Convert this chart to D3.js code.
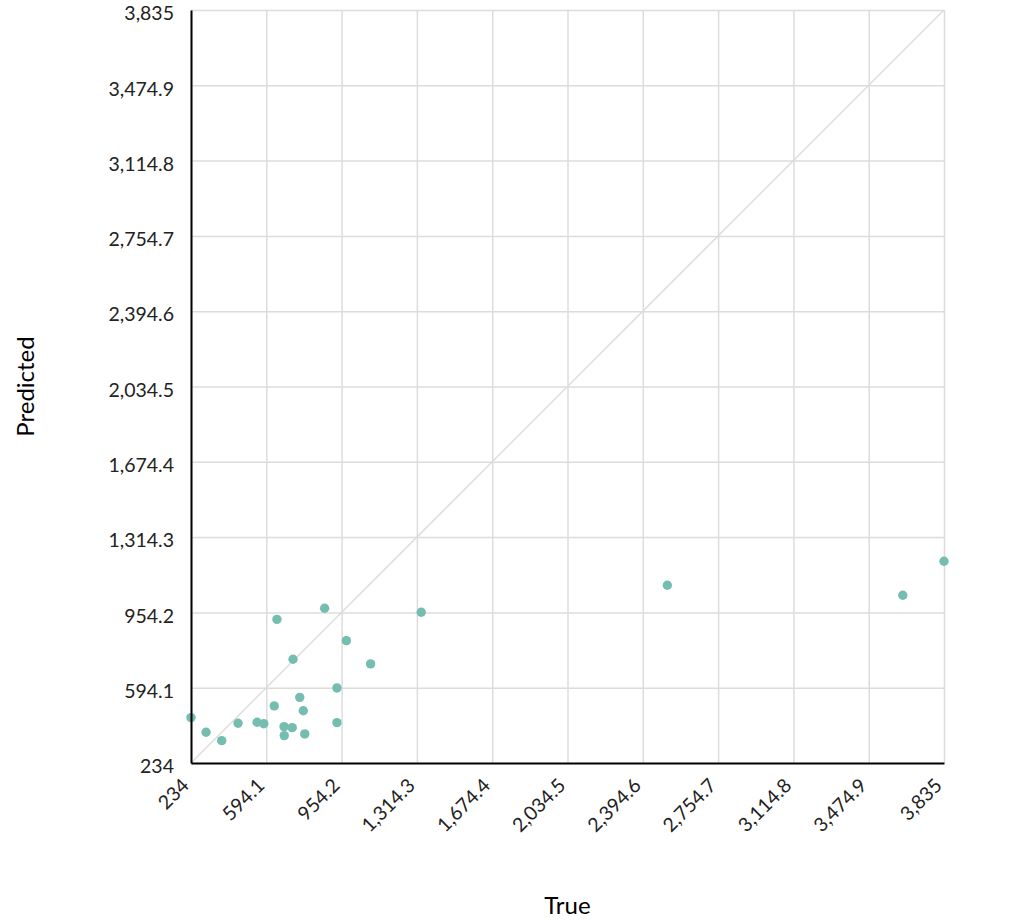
<!DOCTYPE html>
<html>
<head>
<meta charset="utf-8">
<script src="https://cdn.jsdelivr.net/npm/d3@7"></script>
<style>
  body { margin: 0; background: #fff; }
  svg { font-family: Lato, "Open Sans", sans-serif; }
  .grid line { stroke: #dcdcdc; stroke-width: 1.5; }
  .grid .domain { display: none; }
  .axis .domain { stroke: #000; stroke-width: 2; }
  .axis .tick line { display: none; }
  .axis text { font-family: Lato, sans-serif; font-size: 19.5px; fill: #222; }
  .axis-label { font-family: Lato, sans-serif; font-size: 24px; fill: #000; }
</style>
</head>
<body>
<div id="chart"></div>
<script>
// True vs predicted values
const trueVals = [234, 306, 381, 459, 550, 582, 632, 645, 679, 680, 718, 722,
  754, 771, 778, 873, 932, 932, 977, 1093, 1335, 2512, 3638, 3835];
const predVals = [451, 381, 341, 424, 429, 422, 507, 921, 408, 365, 403, 730,
  548, 484, 373, 974, 593, 427, 819, 708, 955, 1084, 1036, 1199];

const domainMin = 234;
const domainMax = 3835;
const tickVals = d3.range(11).map(i => domainMin + i * (domainMax - domainMin) / 10);

const width = 1024;
const height = 920;
const margin = { top: 10, right: 80, bottom: 157, left: 191 };
const chartWidth = width - margin.left - margin.right;
const chartHeight = height - margin.top - margin.bottom;

const svg = d3.select("#chart")
  .append("svg")
  .attr("width", width)
  .attr("height", height);

const chart = svg.append("g")
  .attr("transform", `translate(${margin.left}, ${margin.top})`);

const xScale = d3.scaleLinear().domain([domainMin, domainMax]).range([0, chartWidth]);
const yScale = d3.scaleLinear().domain([domainMin, domainMax]).range([chartHeight, 0]);
const fmt = d3.format(",.1~f");

// Grid lines
chart.append("g")
  .attr("class", "grid")
  .call(d3.axisLeft(yScale).tickValues(tickVals).tickSize(-chartWidth).tickFormat(""));

chart.append("g")
  .attr("class", "grid")
  .attr("transform", `translate(0, ${chartHeight})`)
  .call(d3.axisBottom(xScale).tickValues(tickVals).tickSize(-chartHeight).tickFormat(""));

// Diagonal reference line
chart.append("line")
  .attr("x1", xScale(domainMin))
  .attr("y1", yScale(domainMin))
  .attr("x2", xScale(domainMax))
  .attr("y2", yScale(domainMax))
  .attr("stroke", "#dcdcdc")
  .attr("stroke-width", 1.5);

// Points
chart.selectAll(".dot")
  .data(trueVals.map((t, i) => ({ t: t, p: predVals[i] })))
  .enter()
  .append("circle")
  .attr("class", "dot")
  .attr("cx", d => xScale(d.t))
  .attr("cy", d => yScale(d.p))
  .attr("r", 4.7)
  .attr("fill", "#76bdb1");

// Axes
const xAxis = chart.append("g")
  .attr("class", "axis")
  .attr("transform", `translate(0, ${chartHeight})`)
  .call(d3.axisBottom(xScale).tickValues(tickVals).tickFormat(fmt).tickSize(0).tickSizeOuter(0));

xAxis.selectAll("text")
  .attr("text-anchor", "end")
  .attr("x", 0)
  .attr("y", 0)
  .attr("dx", 0)
  .attr("dy", "0.35em")
  .attr("transform", "translate(-6, 19) rotate(-45)");

chart.append("g")
  .attr("class", "axis")
  .call(d3.axisLeft(yScale).tickValues(tickVals).tickFormat(fmt).tickSize(0).tickSizeOuter(0).tickPadding(17))
  .selectAll("text")
  .attr("dy", "0.5em");

// Axis labels
svg.append("text")
  .attr("class", "axis-label")
  .attr("x", margin.left + chartWidth / 2)
  .attr("y", 914)
  .attr("text-anchor", "middle")
  .text("True");

svg.append("text")
  .attr("class", "axis-label")
  .attr("transform", "rotate(-90)")
  .attr("x", -(margin.top + chartHeight / 2))
  .attr("y", 34)
  .attr("text-anchor", "middle")
  .text("Predicted");
</script>
</body>
</html>
